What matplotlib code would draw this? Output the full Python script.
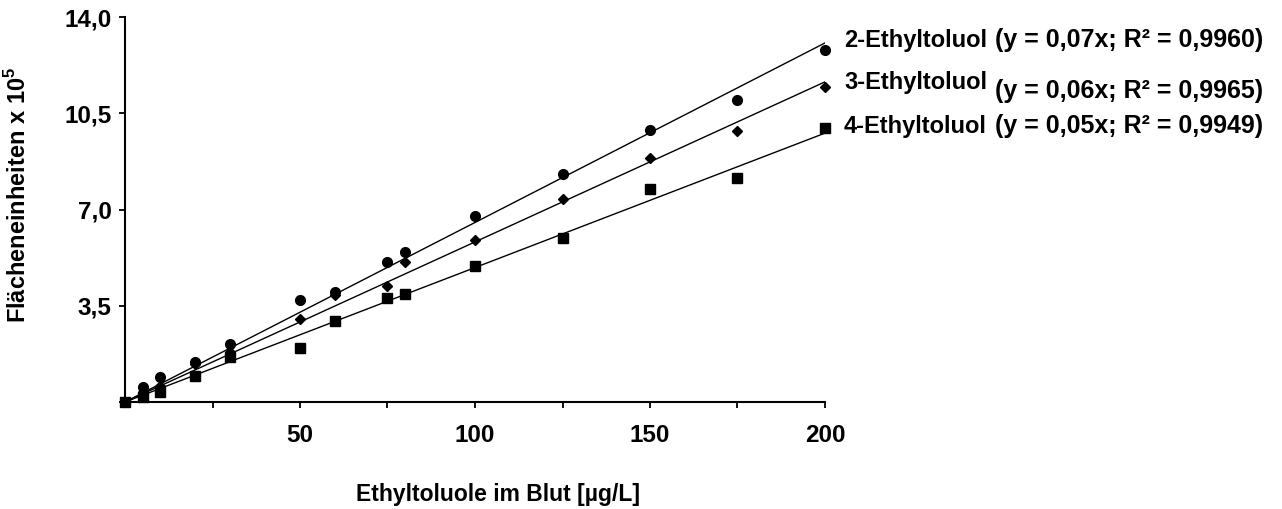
import numpy as np
import matplotlib.pyplot as plt
from matplotlib.ticker import FixedLocator, FixedFormatter

# Konzentrationen (µg/L)
konz = [0, 5, 10, 20, 30, 50, 60, 75, 80, 100, 125, 150, 175, 200]

# Flaechen x 10^5
et2 = [0, 0.53, 0.92, 1.47, 2.11, 3.71, 4.00, 5.10, 5.44, 6.76, 8.29, 9.89, 11.0, 12.8]
et3 = [0, 0.35, 0.60, 1.38, 1.83, 3.02, 3.89, 4.22, 5.10, 5.89, 7.37, 8.86, 9.85, 11.44]
et4 = [0, 0.19, 0.37, 0.96, 1.65, 1.95, 2.96, 3.79, 3.93, 4.95, 5.95, 7.75, 8.13, 9.95]

namen = ['2-Ethyltoluol', '3-Ethyltoluol', '4-Ethyltoluol']
gleichungen = ['(y = 0,07x; R² = 0,9960)', '(y = 0,06x; R² = 0,9965)',
               '(y = 0,05x; R² = 0,9949)']
marker = ['o', 'D', 's']
marker_size = [7, 5.5, 6.8]

x_ticks = [0, 25, 50, 75, 100, 125, 150, 175, 200]
x_labels = ['', '', '50', '', '100', '', '150', '', '200']
y_ticks = [0, 3.5, 7.0, 10.5, 14.0]
y_labels = ['', '3,5', '7,0', '10,5', '14,0']

plt.rcParams['font.family'] = ['Liberation Sans', 'DejaVu Sans']
plt.rcParams['font.weight'] = 'bold'
plt.rcParams['mathtext.fontset'] = 'custom'
plt.rcParams['mathtext.bf'] = 'Liberation Sans:bold'

fig = plt.figure(figsize=(12.82, 5.09), dpi=100)
ax = fig.add_axes([125 / 1282, 1 - 402 / 509, 700 / 1282, 385 / 509])

x = np.array(konz, dtype=float)
for y, m, ms in zip([et2, et3, et4], marker, marker_size):
    y = np.array(y)
    # Ausgleichsgerade durch den Ursprung
    k = np.sum(x * y) / np.sum(x * x)
    ax.plot([0, 200], [0, 200 * k], color='black', lw=1.0, zorder=2)
    ax.plot(x, y, linestyle='none', marker=m, color='black', markersize=ms,
            clip_on=False, zorder=3)

ax.set_xlim(0, 200)
ax.set_ylim(0, 14)
ax.xaxis.set_major_locator(FixedLocator(x_ticks))
ax.xaxis.set_major_formatter(FixedFormatter(x_labels))
ax.yaxis.set_major_locator(FixedLocator(y_ticks))
ax.yaxis.set_major_formatter(FixedFormatter(y_labels))

for s in ['top', 'right']:
    ax.spines[s].set_visible(False)
for s in ['left', 'bottom']:
    ax.spines[s].set_linewidth(1.5)

ax.tick_params(axis='both', direction='out', length=4.5, width=1.3,
               labelsize=17.5)
ax.tick_params(axis='x', pad=11)
ax.tick_params(axis='y', pad=5)

fig.text(498 / 1282, 1 - 494 / 509, 'Ethyltoluole im Blut [µg/L]',
         ha='center', va='center', fontsize=16.5, fontweight='bold')
fig.text(18 / 1282, 1 - 195 / 509, 'Flächeneinheiten x 10$^\\mathbf{5}$',
         ha='center', va='center', rotation=90, fontsize=17, fontweight='bold')

# Beschriftung rechts neben den Geraden
zeilen_y = [40.5, 82.5, 126.5]
klammer_y = [40, 91, 126.5]
for name, gl, zy, ky in zip(namen, gleichungen, zeilen_y, klammer_y):
    fig.text(844 / 1282, 1 - zy / 509, name, ha='left', va='center',
             fontsize=17, fontweight='bold')
    fig.text(995 / 1282, 1 - ky / 509, gl, ha='left', va='center',
             fontsize=18, fontweight='bold')

fig.savefig('out.png', dpi=100)
